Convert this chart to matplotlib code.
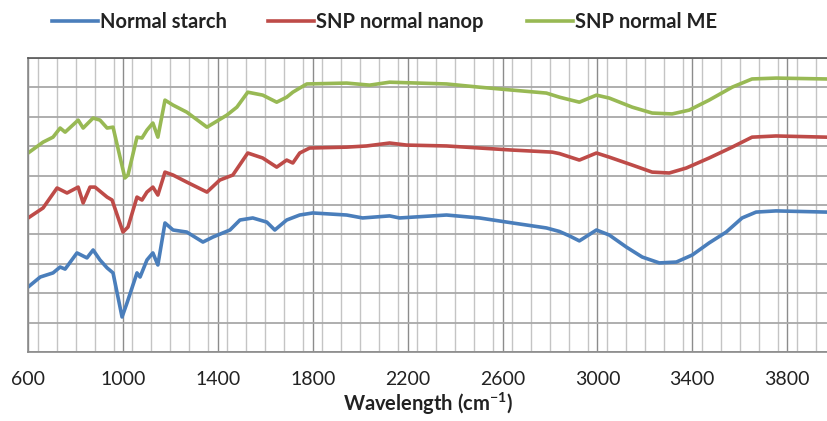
import numpy as np
import matplotlib
matplotlib.use("Agg")
import matplotlib.pyplot as plt
from matplotlib.ticker import MultipleLocator

# FTIR spectra (wavenumber, relative transmittance)
starch_x = [600, 651, 705, 735, 756, 806, 848, 874, 903, 933, 958, 996, 1017, 1059, 1072,
            1101, 1126, 1147, 1177, 1211, 1269, 1337, 1379, 1451, 1493, 1547, 1606, 1640,
            1690, 1745, 1800, 1943, 2010, 2124, 2166, 2364, 2503, 2642, 2785, 2840, 2882,
            2924, 2996, 3050, 3122, 3189, 3261, 3333, 3400, 3471, 3543, 3610, 3669, 3753, 3964]
starch_y = [22.1, 25.5, 26.9, 28.9, 28.2, 33.7, 32.0, 34.7, 31.3, 28.6, 26.9, 11.9, 16.7, 26.9, 25.5,
            31.3, 33.7, 29.6, 43.9, 41.5, 40.8, 37.4, 39.1, 41.5, 44.9, 45.6, 44.2, 41.5,
            44.9, 46.6, 47.3, 46.6, 45.6, 46.3, 45.6, 46.6, 45.6, 43.9, 42.2, 41.0, 39.5,
            37.8, 41.5, 39.8, 35.7, 32.3, 30.3, 30.6, 33.0, 37.1, 40.8, 45.6, 47.6, 48.0, 47.6]

nanop_x = [600, 663, 722, 764, 811, 832, 861, 882, 933, 954, 1000, 1021, 1059, 1080, 1101,
           1126, 1147, 1177, 1211, 1269, 1354, 1408, 1463, 1526, 1589, 1648, 1690, 1716, 1745,
           1787, 1943, 2027, 2124, 2196, 2364, 2503, 2642, 2810, 2840, 2924, 2996, 3050, 3147,
           3231, 3303, 3375, 3471, 3568, 3652, 3753, 3964]
nanop_y = [45.6, 49.0, 55.8, 54.1, 56.1, 50.7, 56.1, 56.1, 52.7, 51.7, 40.8, 42.5, 52.7, 51.7, 54.4,
           56.1, 53.4, 61.2, 60.2, 57.8, 54.4, 58.5, 60.2, 67.7, 66.0, 62.9, 65.3, 64.3, 67.7,
           69.4, 69.7, 70.1, 71.1, 70.4, 70.1, 69.4, 68.7, 68.0, 67.5, 65.3, 67.7, 66.3, 63.6,
           61.2, 60.9, 62.6, 66.0, 69.7, 73.1, 73.5, 73.1]

me_x = [600, 663, 705, 735, 756, 811, 832, 874, 903, 933, 958, 1008, 1021, 1059, 1080,
        1101, 1126, 1147, 1177, 1211, 1269, 1354, 1438, 1480, 1526, 1589, 1648, 1690, 1716,
        1745, 1775, 1943, 2040, 2124, 2364, 2503, 2642, 2785, 2840, 2924, 2996, 3050, 3147,
        3231, 3315, 3387, 3471, 3568, 3652, 3753, 3964]
me_y = [67.7, 71.4, 73.1, 76.2, 74.8, 78.9, 76.2, 79.6, 78.9, 76.2, 76.5, 59.2, 60.2, 73.1, 72.8,
        75.5, 77.9, 73.1, 85.7, 84.0, 81.6, 76.5, 80.6, 83.3, 88.4, 87.4, 85.0, 86.7, 88.4,
        89.8, 91.2, 91.5, 90.8, 91.8, 91.2, 90.1, 89.1, 88.1, 86.7, 85.0, 87.4, 86.4, 83.3,
        81.3, 81.0, 82.3, 85.7, 90.1, 92.9, 93.2, 92.9]

labels = ["Normal starch", "SNP normal nanop", "SNP normal ME"]
colors = ["#4a7ebb", "#be4b48", "#98b954"]
xticks = list(range(600, 4000, 400))

plt.rcParams['font.family'] = ['Lato', 'DejaVu Sans']
plt.rcParams['mathtext.default'] = 'regular'

W, H = 827, 421
fig = plt.figure(figsize=(W / 100, H / 100), dpi=100)
ax = fig.add_axes([0.034, 0.164, 0.966, 0.698])

series = [(starch_x, starch_y), (nanop_x, nanop_y), (me_x, me_y)]
handles = []
for (x, y), lab, c in zip(series, labels, colors):
    ln, = ax.plot(x, y, color=c, lw=2.6, label=lab, solid_joinstyle='round')
    handles.append(ln)

ax.set_xlim(600, 3968)
ax.set_ylim(0, 100)
ax.set_xticks(xticks)
ax.xaxis.set_minor_locator(MultipleLocator(80))
ax.yaxis.set_major_locator(MultipleLocator(10))
ax.set_yticklabels([])
ax.tick_params(which='both', length=0)
ax.tick_params(axis='x', labelsize=14, labelcolor='#222222', pad=14)

ax.grid(which='minor', axis='x', color='#c4c4c4', lw=1.0)
ax.grid(which='major', axis='x', color='#8c8c8c', lw=1.0)
ax.grid(which='major', axis='y', color='#a8a8a8', lw=1.3)
ax.set_axisbelow(True)

for s in ['left', 'bottom', 'top']:
    ax.spines[s].set_color('#8a8a8a')
    ax.spines[s].set_linewidth(1.2)
ax.spines['top'].set_color('#555555')
ax.spines['right'].set_visible(False)

ax.set_xlabel('Wavelength (cm$^{-1}$)', fontsize=14.5, fontweight='bold',
              color='#222222', labelpad=2)

# one legend per entry so each sits where it does in the original
legend_x = [52, 268, 527]
for h, lab, lx in zip(handles, labels, legend_x):
    fig.legend([h], [lab], loc='center left', bbox_to_anchor=(lx / W, 1 - 22 / H),
               frameon=False, borderpad=0, borderaxespad=0,
               handlelength=2.3, handletextpad=0.1,
               prop={'size': 14.5, 'weight': 'bold'}, labelcolor='#222222')

fig.savefig('out.png', dpi=100)
